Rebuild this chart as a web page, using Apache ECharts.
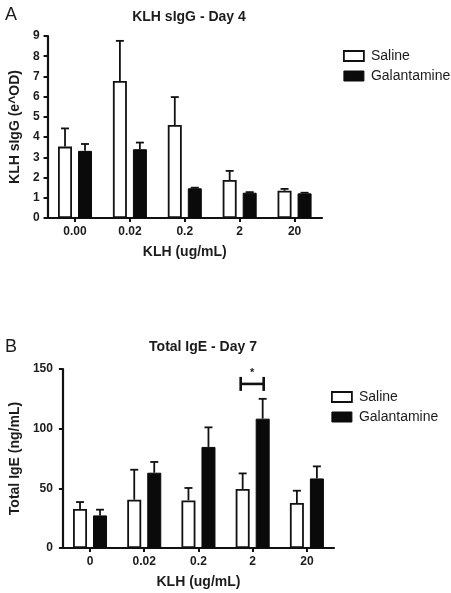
<!DOCTYPE html>
<html>
<head>
<meta charset="utf-8">
<script src="https://cdn.jsdelivr.net/npm/echarts@6/dist/echarts.min.js"></script>
<style>
html,body{margin:0;padding:0;background:#fff;}
#chart{width:451px;height:593px;}
</style>
</head>
<body>
<div id="chart"></div>
<script>
// Panel A: KLH sIgG - Day 4
var categoriesA = ['0.00', '0.02', '0.2', '2', '20'];
var salineA = [3.53, 6.78, 4.60, 1.88, 1.35];
var salineAErr = [0.90, 1.98, 1.38, 0.45, 0.09];
var galA = [3.32, 3.40, 1.47, 1.25, 1.22];
var galAErr = [0.34, 0.33, 0.03, 0.03, 0.03];
var yTicksA = [0, 1, 2, 3, 4, 5, 6, 7, 8, 9];

// Panel B: Total IgE - Day 7
var categoriesB = ['0', '0.02', '0.2', '2', '20'];
var salineB = [32.7, 40.5, 39.9, 49.5, 37.7];
var salineBErr = [5.8, 25.1, 10.4, 13.0, 10.3];
var galB = [27.3, 63.1, 84.7, 108.4, 58.3];
var galBErr = [4.8, 9.0, 16.4, 16.6, 10.1];
var yTicksB = [0, 50, 100, 150];
// significance bracket (category index, y level, label)
var sigB = [[3, 137.5, '*']];

var FONT = 'Liberation Sans, Arial, sans-serif';
var TXT = '#1c1c1c';
var BAR_W = 14;
var OFFSET = 10;

function errSeries(means, errs, axisIdx, side) {
  var data = means.map(function (m, i) { return [i, m, m + errs[i]]; });
  return {
    type: 'custom',
    xAxisIndex: axisIdx, yAxisIndex: axisIdx,
    z: 5, silent: true,
    data: data,
    encode: { x: 0, y: [1, 2] },
    renderItem: function (params, api) {
      var lo = api.coord([api.value(0), api.value(1)]);
      var hi = api.coord([api.value(0), api.value(2)]);
      var x = lo[0] + side * OFFSET;
      var cap = 4;
      var st = { stroke: '#111', lineWidth: 1.8 };
      return {
        type: 'group',
        children: [
          { type: 'line', shape: { x1: x, y1: lo[1], x2: x, y2: hi[1] }, style: st },
          { type: 'line', shape: { x1: x - cap, y1: hi[1], x2: x + cap, y2: hi[1] }, style: st }
        ]
      };
    }
  };
}

function yAxisCfg(idx, max, interval, name, gap, margin) {
  return {
    type: 'value', gridIndex: idx, min: 0, max: max, interval: interval,
    name: name, nameLocation: 'middle', nameGap: gap, nameRotate: 90,
    nameTextStyle: { fontFamily: FONT, fontSize: 14, fontWeight: 'bold', color: TXT },
    axisLine: { show: true, lineStyle: { color: '#111', width: 2.2 } },
    axisTick: { show: true, length: 4, lineStyle: { color: '#111', width: 2 } },
    axisLabel: { fontFamily: FONT, fontSize: 12, fontWeight: 'bold', color: TXT, margin: margin },
    splitLine: { show: false }
  };
}
function xAxisCfg(idx, cats) {
  return {
    type: 'category', gridIndex: idx, data: cats,
    name: 'KLH (ug/mL)', nameLocation: 'middle', nameGap: 27,
    nameTextStyle: { fontFamily: FONT, fontSize: 14, fontWeight: 'bold', color: TXT },
    axisLine: { show: true, lineStyle: { color: '#111', width: 2.2 } },
    axisTick: { show: true, alignWithLabel: true, length: 4, lineStyle: { color: '#111', width: 2 } },
    axisLabel: { fontFamily: FONT, fontSize: 12, fontWeight: 'bold', color: TXT, margin: 8 },
    splitLine: { show: false }
  };
}

var salineStyle = { color: '#ffffff', borderColor: '#111', borderWidth: 1.8 };
var galStyle = { color: '#0a0a0a', borderColor: '#0a0a0a', borderWidth: 1 };

var option = {
  animation: false,
  backgroundColor: '#ffffff',
  title: [
    { text: 'A', left: 0, top: 1, textStyle: { fontFamily: FONT, fontSize: 18, fontWeight: 'normal', color: TXT } },
    { text: 'KLH sIgG - Day 4', left: 184, top: 5, textAlign: 'center', textStyle: { fontFamily: FONT, fontSize: 14, fontWeight: 'bold', color: TXT } },
    { text: 'B', left: 0, top: 333, textStyle: { fontFamily: FONT, fontSize: 18, fontWeight: 'normal', color: TXT } },
    { text: 'Total IgE - Day 7', left: 198, top: 335, textAlign: 'center', textStyle: { fontFamily: FONT, fontSize: 14, fontWeight: 'bold', color: TXT } }
  ],
  legend: [
    {
      left: 338, top: 44, orient: 'vertical', itemWidth: 20, itemHeight: 10, itemGap: 6,
      textStyle: { fontFamily: FONT, fontSize: 14, color: TXT, padding: [0, 0, 0, 2] },
      selectedMode: false,
      data: [
        { name: 'Saline', icon: 'rect', itemStyle: salineStyle },
        { name: 'Galantamine', icon: 'rect', itemStyle: galStyle }
      ]
    },
    {
      left: 326, top: 385, orient: 'vertical', itemWidth: 20, itemHeight: 10, itemGap: 6,
      textStyle: { fontFamily: FONT, fontSize: 14, color: TXT, padding: [0, 0, 0, 2] },
      selectedMode: false,
      data: [
        { name: 'Saline', icon: 'rect', itemStyle: salineStyle },
        { name: 'Galantamine', icon: 'rect', itemStyle: galStyle }
      ]
    }
  ],
  grid: [
    { left: 47, top: 36, width: 275, height: 182, containLabel: false },
    { left: 62, top: 369, width: 272, height: 179, containLabel: false }
  ],
  xAxis: [xAxisCfg(0, categoriesA), xAxisCfg(1, categoriesB)],
  yAxis: [
    yAxisCfg(0, yTicksA[yTicksA.length - 1], yTicksA[1] - yTicksA[0], 'KLH sIgG (e^OD)', 25, 8),
    yAxisCfg(1, yTicksB[yTicksB.length - 1], yTicksB[1] - yTicksB[0], 'Total IgE (ng/mL)', 40, 10)
  ],
  series: [
    { name: 'Saline', type: 'bar', xAxisIndex: 0, yAxisIndex: 0, data: salineA, barWidth: BAR_W, barGap: '43%', itemStyle: salineStyle, z: 3 },
    { name: 'Galantamine', type: 'bar', xAxisIndex: 0, yAxisIndex: 0, data: galA, barWidth: BAR_W, barGap: '43%', itemStyle: galStyle, z: 3 },
    errSeries(salineA, salineAErr, 0, -1),
    errSeries(galA, galAErr, 0, 1),
    { name: 'Saline', type: 'bar', xAxisIndex: 1, yAxisIndex: 1, data: salineB, barWidth: BAR_W, barGap: '43%', itemStyle: salineStyle, z: 3 },
    { name: 'Galantamine', type: 'bar', xAxisIndex: 1, yAxisIndex: 1, data: galB, barWidth: BAR_W, barGap: '43%', itemStyle: galStyle, z: 3 },
    errSeries(salineB, salineBErr, 1, -1),
    errSeries(galB, galBErr, 1, 1),
    {
      type: 'custom', xAxisIndex: 1, yAxisIndex: 1, z: 6, silent: true,
      data: sigB,
      renderItem: function (params, api) {
        var p = api.coord([api.value(0), api.value(1)]);
        var x1 = p[0] - 12, x2 = p[0] + 11, y = p[1];
        var st = { stroke: '#111', lineWidth: 2.6 };
        return {
          type: 'group',
          children: [
            { type: 'line', shape: { x1: x1, y1: y, x2: x2, y2: y }, style: st },
            { type: 'line', shape: { x1: x1, y1: y - 7, x2: x1, y2: y + 7 }, style: st },
            { type: 'line', shape: { x1: x2, y1: y - 7, x2: x2, y2: y + 7 }, style: st },
            { type: 'text', style: { text: sigB[params.dataIndex][2], x: (x1 + x2) / 2, y: y - 11, textAlign: 'center', textVerticalAlign: 'middle', font: 'bold 11px ' + FONT, fill: TXT } }
          ]
        };
      }
    }
  ]
};

var chart = echarts.init(document.getElementById('chart'), null, { renderer: 'canvas' });
chart.setOption(option);
</script>
</body>
</html>
